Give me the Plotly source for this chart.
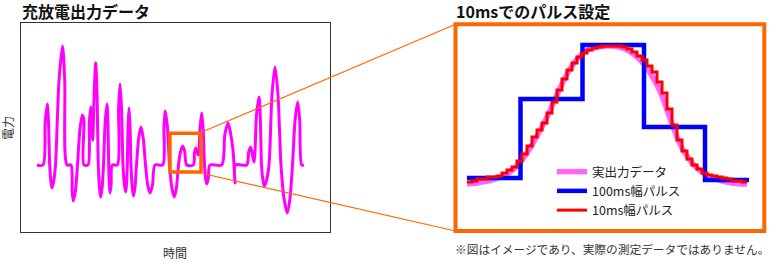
import plotly.graph_objects as go

W, H = 777, 270
FONT = "Noto Sans CJK JP"

# ---------------- left panel data: waveform points (time, power) ----------------
wave_t = [16, 22,
          24.2, 26.3, 27.5, 28.7,
          29.85, 31, 32.75, 34.5,
          38, 41.5, 43.75, 46,
          50,
          51.15, 52.3, 54.4, 56.5,
          58.9, 61.3, 62.2, 63, 63,
          67,
          68.3, 69.7, 70.7, 71.7, 73.2, 74.7, 76, 77.3,
          78.5, 79.7, 81.1, 82.5,
          84.2, 86, 86.9, 87.7,
          88.3, 89, 90.1, 91.3,
          96.3,
          97.6, 99, 100.5, 102,
          103.3, 104.7, 105.5, 106.3,
          107.1, 108, 109, 110,
          111.2, 112.5, 114, 115.5,
          117.7, 120, 122.2, 124.5,
          126.7, 129, 131.5, 134,
          141.7,
          143, 144.3, 146.4, 148.5,
          150.9, 153.3, 155.4, 157.5,
          159.6, 161.7, 163.7, 165.7,
          172.3,
          173.5, 174.7, 177.3, 179, 180.7, 182.1, 183.5,
          184.6, 185.7, 187.3, 189,
          200.7,
          203.8, 207, 209.5, 212, 213, 214, 214.5,
          225.7,
          227.7, 229.7, 233, 235.5, 238, 239.3, 240.5,
          241.9, 243.3, 245.6, 248,
          251, 254, 257, 260,
          263.1, 266.3, 268.9, 271.5,
          274.1, 276.7, 278.7, 280.7,
          283]
wave_p = [0, 0,
          43, 61, 43, 0,
          -16, -23, -16, 0,
          84, 119, 84, 0,
          0,
          -26, -36, -26, 0,
          35, 50, 48, 43, 0,
          0,
          41, 58, 42, 25, 72, 102, 72, 0,
          -23, -32, -23, 0,
          43, 61, 43, 0,
          -20, -28, -20, 0,
          0,
          57, 81, 57, 0,
          -19, -27, -19, 0,
          40, 57, 40, 0,
          -22, -31, -22, 0,
          27, 38, 27, 0,
          -20, -28, -20, 0,
          0,
          38, 54, 38, 0,
          -23, -32, -23, 0,
          13.5, 19, 13.5, 0,
          0,
          12, 17, 10, 37, 52, 37, 0,
          -13.5, -19, -13.5, 0,
          0,
          30, 42, 32, 15, 0, -18, 0,
          0,
          13, 18, 3, 50, 68, 48, 0,
          -15, -21, -15, 0,
          70, 98, 70, 0,
          -34, -48, -34, 0,
          45, 63, 45, 0,
          0]

# ---------------- right panel data ----------------
# actual output (every 10 ms)
actual_t = list(range(0, 570, 10))
actual_p = [1, 1.5, 2, 3, 4, 5, 6.5, 8.5, 11, 14.5, 19, 25, 32, 40, 49, 58, 68, 79,
            90, 101, 111, 119, 126, 131, 134.5, 136.5, 138, 138.5, 139, 139, 138.5,
            137, 135, 132, 128, 123, 117, 109, 100, 89, 75, 61, 48, 37, 29, 22, 17,
            13, 9.5, 7.5, 5.5, 4, 3, 2, 1.5, 1, 1]
# 100 ms pulses
p100_t = [0, 107, 231, 354, 476, 564]
p100_p = [7, 86, 140, 58, 5, 5]
# 10 ms pulses
p10_t = list(range(0, 570, 10))
p10_vals = [3, 4, 6, 6, 8, 8, 9, 12, 15, 18, 24, 31, 39, 48, 55, 62, 72, 83, 95, 106,
            115, 122, 128, 132, 135, 137, 138, 139, 139, 139, 139, 138, 136, 133, 129,
            125, 119, 113, 103, 92, 76, 60, 45, 34, 26, 20, 16, 12, 10, 9, 8, 7, 6, 4,
            4, 3]
p10_p = p10_vals + [p10_vals[-1]]

labels = ["実出力データ", "100ms幅パルス", "10ms幅パルス"]
title_left = "充放電出力データ"
title_right = "10msでのパルス設定"
xlabel = "時間"
ylabel = "電力"
note = "※図はイメージであり、実際の測定データではありません。"


def px(x):
    return x / W


def py(y):
    return 1 - y / H


fig = go.Figure()

# left waveform
fig.add_trace(go.Scatter(x=wave_t, y=wave_p, mode="lines", xaxis="x", yaxis="y",
                         line=dict(color="#ff00ff", width=3, shape="spline", smoothing=0.8),
                         showlegend=False, hoverinfo="skip"))

# right traces
fig.add_trace(go.Scatter(x=actual_t, y=actual_p, mode="lines", xaxis="x2", yaxis="y2",
                         name=labels[0],
                         line=dict(color="#ff66ff", width=5.5, shape="spline")))
fig.add_trace(go.Scatter(x=p100_t, y=p100_p, mode="lines", xaxis="x2", yaxis="y2",
                         name=labels[1],
                         line=dict(color="#0000ff", width=4.5, shape="hv")))
fig.add_trace(go.Scatter(x=p10_t, y=p10_p, mode="lines", xaxis="x2", yaxis="y2",
                         name=labels[2],
                         line=dict(color="#ff0000", width=3, shape="hv")))

ax_common = dict(showgrid=False, zeroline=False, showticklabels=False, ticks="")

fig.update_layout(
    width=W, height=H,
    margin=dict(l=0, r=0, t=0, b=0),
    paper_bgcolor="white", plot_bgcolor="white",
    font=dict(family=FONT, color="#222"),
    xaxis=dict(domain=[px(21), px(330)], range=[0, 309], showline=True, mirror=True,
               linecolor="#333", linewidth=1, **ax_common),
    yaxis=dict(domain=[py(232), py(23)], range=[-67, 142], showline=True, mirror=True,
               linecolor="#333", linewidth=1, **ax_common),
    xaxis2=dict(domain=[px(455.5), px(764.3)], range=[-23, 594.6], anchor="y2", **ax_common),
    yaxis2=dict(domain=[py(231), py(24.3)], range=[-46, 160.7], anchor="x2", **ax_common),
    showlegend=True,
    legend=dict(x=px(552), y=py(157), xanchor="left", yanchor="top",
                bgcolor="rgba(0,0,0,0)", font=dict(family=FONT, size=12.5, color="#222"),
                tracegroupgap=0),
)

orange = "#ff6600"
fig.add_shape(type="rect", xref="paper", yref="paper",
              x0=px(455.5), x1=px(764.3), y0=py(231), y1=py(24.3),
              line=dict(color=orange, width=4))
fig.add_shape(type="rect", xref="paper", yref="paper",
              x0=px(170), x1=px(201), y0=py(172), y1=py(133.3),
              line=dict(color=orange, width=3.5))
fig.add_shape(type="line", xref="paper", yref="paper",
              x0=px(202.5), y0=py(131.8), x1=px(455.5), y1=py(24.3),
              line=dict(color=orange, width=1.2))
fig.add_shape(type="line", xref="paper", yref="paper",
              x0=px(202.5), y0=py(173.5), x1=px(455.5), y1=py(231),
              line=dict(color=orange, width=1.2))

ann = [
    dict(text=title_left, x=px(20), y=py(11), xanchor="left", yanchor="middle",
         font=dict(size=16, color="#111", weight="bold")),
    dict(text=title_right, x=px(454), y=py(11), xanchor="left", yanchor="middle",
         font=dict(size=16, color="#111", weight="bold")),
    dict(text=xlabel, x=px(175), y=py(252), xanchor="center", yanchor="middle",
         font=dict(size=12, color="#333")),
    dict(text=ylabel, x=px(7), y=py(128), xanchor="center", yanchor="middle",
         textangle=-90, font=dict(size=12, color="#333")),
    dict(text=note, x=px(771), y=py(248), xanchor="right", yanchor="middle",
         font=dict(size=11.7, color="#333")),
]
for a in ann:
    fig.add_annotation(xref="paper", yref="paper", showarrow=False, **a)

fig.write_html("out.html")
